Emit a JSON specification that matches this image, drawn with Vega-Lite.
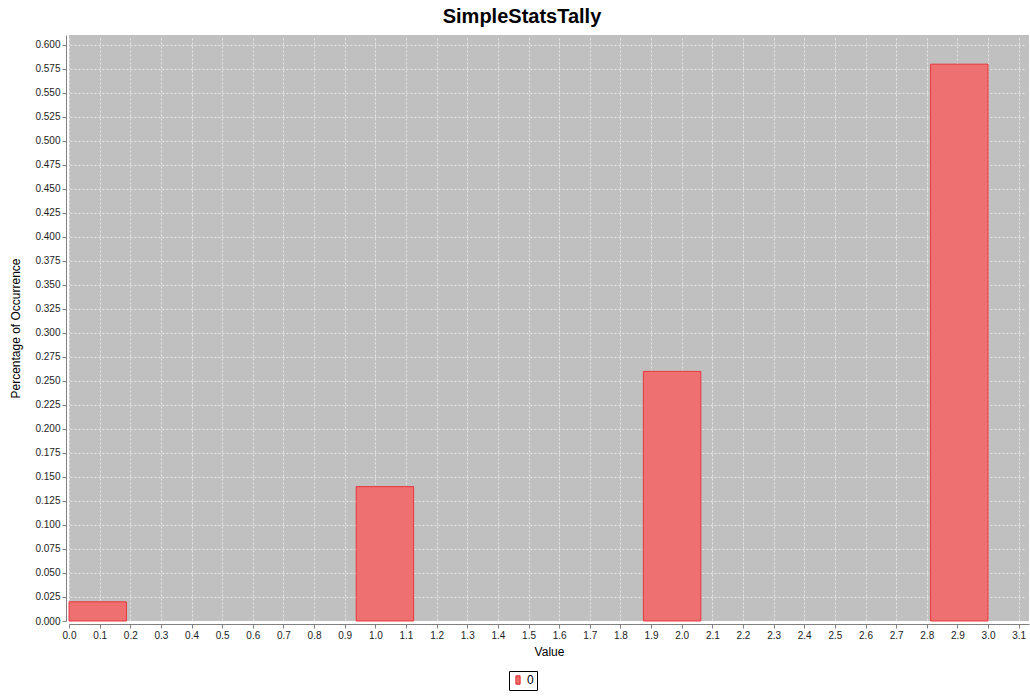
{
  "$schema": "https://vega.github.io/schema/vega-lite/v6.json",
  "autosize": "none",
  "width": 960,
  "height": 586,
  "padding": {"left": 69, "top": 35, "right": 1, "bottom": 79},
  "background": "white",
  "title": {
    "text": "SimpleStatsTally",
    "font": "Liberation Sans",
    "fontSize": 20,
    "fontWeight": "bold",
    "color": "black",
    "anchor": "middle",
    "dx": -27,
    "offset": 8
  },
  "config": {
    "view": {"fill": "#c0c0c0", "stroke": null},
    "axis": {
      "labelFont": "Liberation Sans",
      "labelFontSize": 10,
      "labelColor": "#222222",
      "titleFont": "Liberation Sans",
      "titleFontSize": 12,
      "titleFontWeight": "normal",
      "titleColor": "black",
      "domainColor": "#808080",
      "tickColor": "#808080",
      "tickSize": 4,
      "gridColor": "#ffffff",
      "gridDash": [2, 2],
      "gridOpacity": 0.6,
      "offset": 3,
      "labelFlush": false
    }
  },
  "data": {
    "values": [
      {"start": 0.0, "end": 0.1875, "pct": 0.02, "series": "0"},
      {"start": 0.9375, "end": 1.125, "pct": 0.14, "series": "0"},
      {"start": 1.875, "end": 2.0625, "pct": 0.26, "series": "0"},
      {"start": 2.8125, "end": 3.0, "pct": 0.58, "series": "0"}
    ]
  },
  "mark": {"type": "rect", "stroke": "#e8383c", "strokeWidth": 1, "fillOpacity": 1},
  "encoding": {
    "x": {
      "field": "start",
      "type": "quantitative",
      "title": "Value",
      "scale": {"domain": [0, 3.1337], "nice": false, "zero": false},
      "axis": {
        "values": [0,0.1,0.2,0.3,0.4,0.5,0.6,0.7,0.8,0.9,1.0,1.1,1.2,1.3,1.4,1.5,1.6,1.7,1.8,1.9,2.0,2.1,2.2,2.3,2.4,2.5,2.6,2.7,2.8,2.9,3.0,3.1],
        "format": ".1f",
        "labelPadding": 2,
        "titlePadding": 6,
        "labelOverlap": false
      }
    },
    "x2": {"field": "end"},
    "y": {
      "field": "pct",
      "type": "quantitative",
      "title": "Percentage of Occurrence",
      "scale": {"domain": [0, 0.6104], "nice": false},
      "axis": {
        "values": [0,0.025,0.05,0.075,0.1,0.125,0.15,0.175,0.2,0.225,0.25,0.275,0.3,0.325,0.35,0.375,0.4,0.425,0.45,0.475,0.5,0.525,0.55,0.575,0.6],
        "format": ".3f",
        "labelPadding": 2,
        "titlePadding": 12,
        "labelOverlap": false
      }
    },
    "y2": {"datum": 0},
    "color": {
      "field": "series",
      "type": "nominal",
      "scale": {"range": ["#ef7070"]},
      "legend": {
        "title": null,
        "orient": "none",
        "legendX": 440,
        "legendY": 636,
        "strokeColor": "black",
        "padding": 3,
        "symbolType": "M-0.5,-1H0.5V1H-0.5Z",
        "symbolSize": 70,
        "symbolFillColor": "#ff4444",
        "symbolStrokeColor": "#e02020",
        "symbolStrokeWidth": 1,
        "labelFont": "Liberation Sans",
        "labelFontSize": 12,
        "labelColor": "black",
        "labelOffset": 3
      }
    }
  }
}
